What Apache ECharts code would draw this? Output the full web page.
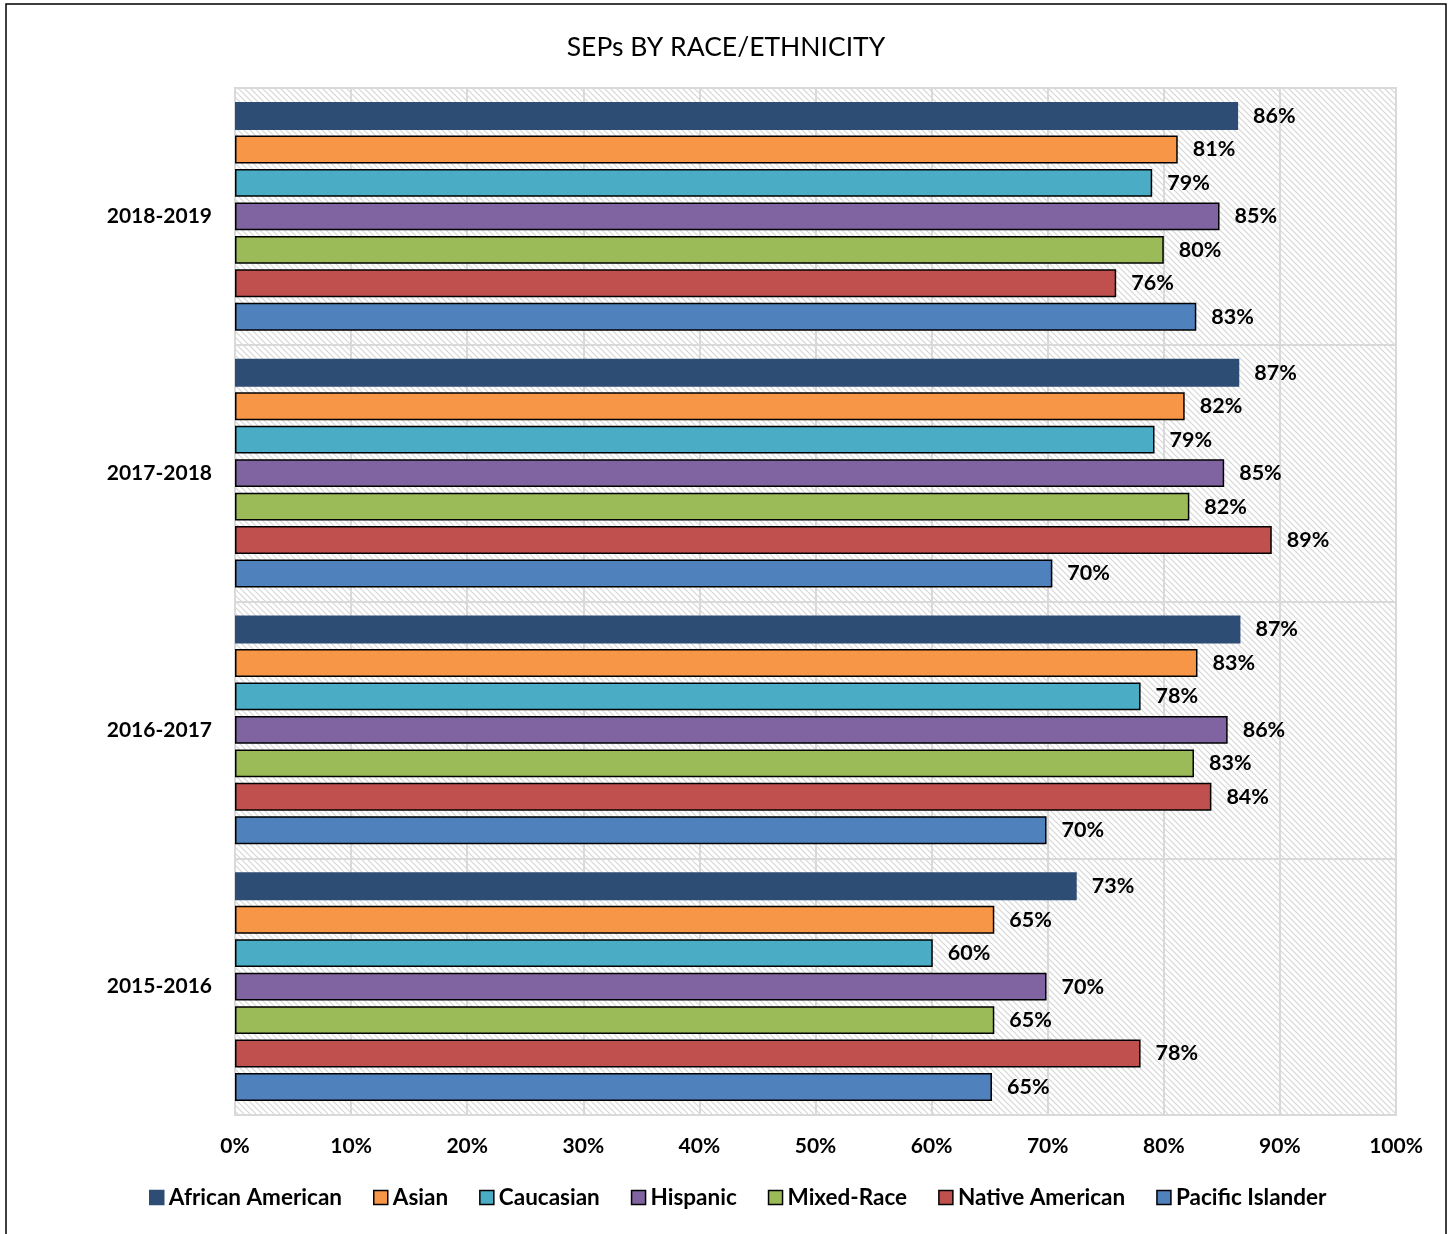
<!DOCTYPE html>
<html>
<head>
<meta charset="utf-8">
<script src="https://cdn.jsdelivr.net/npm/echarts@6/dist/echarts.min.js"></script>
<style>
  html, body { margin: 0; padding: 0; background: #fff; }
  #chart { width: 1452px; height: 1234px; }
</style>
</head>
<body>
<div id="chart"></div>
<script>
// school years, bottom to top
const years = ['2015-2016', '2016-2017', '2017-2018', '2018-2019'];

const groups = ['African American', 'Asian', 'Caucasian', 'Hispanic', 'Mixed-Race', 'Native American', 'Pacific Islander'];
const colors = ['#2E4D74', '#F79646', '#4BACC6', '#8064A2', '#9BBB59', '#C0504D', '#4F81BD'];

// percent values per group, same order as years
const africanAmerican = [72.5, 86.6, 86.5, 86.4];
const asian = [65.4, 82.9, 81.8, 81.2];
const caucasian = [60.1, 78.0, 79.2, 79.0];
const hispanic = [69.9, 85.5, 85.2, 84.8];
const mixedRace = [65.4, 82.6, 82.2, 80.0];
const nativeAmerican = [78.0, 84.1, 89.3, 75.9];
const pacificIslander = [65.2, 69.9, 70.4, 82.8];

const values = [africanAmerican, asian, caucasian, hispanic, mixedRace, nativeAmerican, pacificIslander];

const pctTicks = [0, 10, 20, 30, 40, 50, 60, 70, 80, 90, 100];

// hatched background for the plot area
function hatch() {
  const c = document.createElement('canvas');
  c.width = 6; c.height = 6;
  const ctx = c.getContext('2d');
  ctx.fillStyle = '#fff';
  ctx.fillRect(0, 0, 6, 6);
  ctx.strokeStyle = '#d6d6d6';
  ctx.lineWidth = 1.2;
  ctx.beginPath();
  ctx.moveTo(-1, -1); ctx.lineTo(7, 7);
  ctx.moveTo(-1, 5); ctx.lineTo(1, 7);
  ctx.moveTo(5, -1); ctx.lineTo(7, 1);
  ctx.stroke();
  return c;
}

const font = 'Lato, "Open Sans", sans-serif';

const chart = echarts.init(document.getElementById('chart'), null, { renderer: 'canvas' });

const series = groups.map(function (name, i) {
  return {
    name: name,
    type: 'bar',
    data: values[i],
    barGap: '20%',
    barCategoryGap: '11%',
    itemStyle: {
      color: colors[i],
      borderColor: i === 0 ? colors[0] : '#000',
      borderWidth: 1.5
    },
    label: {
      show: true,
      position: 'right',
      distance: 15,
      color: '#000',
      fontWeight: 'bold',
      fontSize: 21.5,
      fontFamily: font,
      formatter: function (p) { return Math.round(p.value) + '%'; }
    }
  };
});

const option = {
  backgroundColor: '#fff',
  animation: false,
  color: colors,
  title: {
    text: 'SEPs BY RACE/ETHNICITY',
    left: 'center',
    top: 29,
    textStyle: { fontSize: 26.5, fontWeight: 'normal', color: '#000', fontFamily: font }
  },
  legend: {
    bottom: 20,
    left: 144,
    itemWidth: 14,
    itemHeight: 14,
    itemGap: 31,
    icon: 'rect',
    textStyle: { fontSize: 22.5, fontWeight: 'bold', color: '#000', fontFamily: font },
    data: groups.map(function (g, i) {
      return { name: g, itemStyle: { borderColor: i === 0 ? colors[0] : '#000', borderWidth: 1.5 } };
    })
  },
  grid: {
    left: 235,
    right: 56,
    top: 88,
    bottom: 119,
    show: true,
    backgroundColor: { image: hatch(), repeat: 'repeat' },
    borderColor: '#d9d9d9',
    borderWidth: 2
  },
  xAxis: {
    type: 'value',
    min: 0,
    max: 100,
    interval: 10,
    axisLine: { show: false },
    axisTick: { show: false },
    splitLine: { show: true, lineStyle: { color: '#d9d9d9', width: 2 } },
    axisLabel: {
      margin: 21,
      fontSize: 21,
      fontWeight: 'bold',
      color: '#000',
      fontFamily: font,
      formatter: function (v) { return pctTicks.indexOf(v) >= 0 ? v + '%' : ''; }
    }
  },
  yAxis: {
    type: 'category',
    data: years,
    axisLine: { show: false },
    axisTick: { show: false },
    splitLine: { show: true, lineStyle: { color: '#d9d9d9', width: 2 } },
    axisLabel: {
      margin: 23,
      fontSize: 21,
      fontWeight: 'bold',
      color: '#000',
      fontFamily: font
    }
  },
  graphic: [{
    type: 'rect',
    shape: { x: 6, y: 4, width: 1440, height: 1240 },
    style: { fill: null, stroke: '#000', lineWidth: 1.5 },
    silent: true
  }],
  series: series
};

chart.setOption(option);
</script>
</body>
</html>
